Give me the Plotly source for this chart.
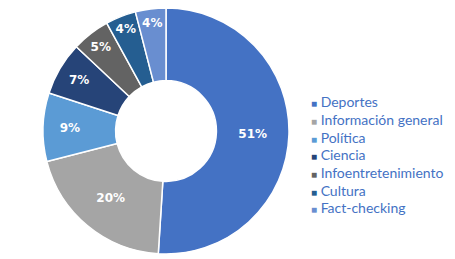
import plotly.graph_objects as go

categories = ["Deportes", "Información general", "Política", "Ciencia",
              "Infoentretenimiento", "Cultura", "Fact-checking"]
values = [51, 20, 9, 7, 5, 4, 4]
colors = ["#4472C4", "#A5A5A5", "#5B9BD5", "#264478", "#636363", "#255E91", "#698ED0"]

W, H = 455, 259
OFF = 8  # page body margin offset

cx, cy, r = 166 - OFF, 131 - OFF, 123

fig = go.Figure(go.Pie(
    labels=categories,
    values=values,
    hole=0.41,
    sort=False,
    direction="clockwise",
    rotation=0,
    marker=dict(colors=colors, line=dict(color="white", width=1.5)),
    texttemplate="<b>%{value}%</b>",
    textposition="inside",
    insidetextorientation="horizontal",
    textfont=dict(color="white", size=12, family="DejaVu Sans"),
    domain=dict(x=[(cx - r) / W, (cx + r) / W],
                y=[1 - (cy + r) / H, 1 - (cy - r) / H]),
    showlegend=False,
))

# Legend drawn as text annotations (compact spacing like the reference)
legend_x = (309 - OFF) / W
legend_top = 102 - OFF
legend_step = 17.6
for i, (cat, col) in enumerate(zip(categories, colors)):
    y_px = legend_top + i * legend_step
    fig.add_annotation(
        xref="paper", yref="paper",
        x=legend_x, y=1 - y_px / H,
        xanchor="left", yanchor="middle",
        showarrow=False,
        text=f"<span style='color:{col};font-size:10px'>■</span> {cat}",
        font=dict(color="#4472C4", size=14, family="Lato"),
    )

fig.update_layout(
    width=W, height=H,
    margin=dict(l=0, r=0, t=0, b=0),
    paper_bgcolor="white",
    showlegend=False,
)

fig.write_html("out.html")
